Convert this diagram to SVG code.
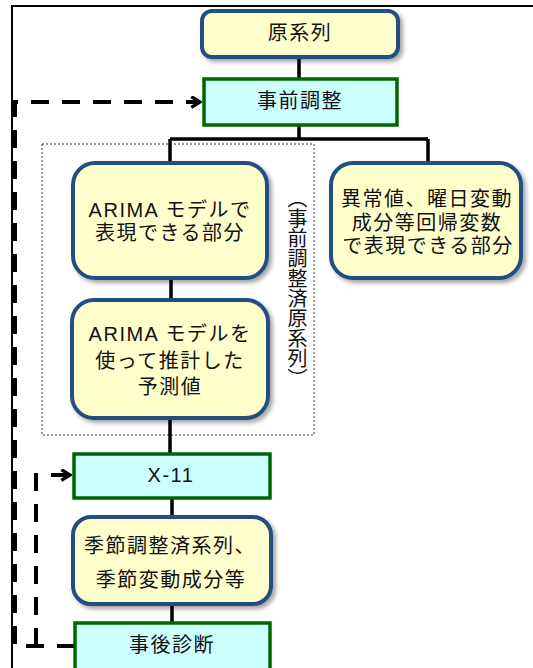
<svg xmlns="http://www.w3.org/2000/svg" width="533" height="668" viewBox="0 0 533 668">
<defs>
<filter id="sh" x="-10%" y="-10%" width="130%" height="130%">
<feDropShadow dx="3" dy="3" stdDeviation="2" flood-color="#000" flood-opacity="0.35"/>
</filter>
<marker id="chev" viewBox="0 0 12 12" refX="10" refY="6" markerWidth="13" markerHeight="13" markerUnits="userSpaceOnUse" orient="auto">
<path d="M2,1 L10,6 L2,11" fill="none" stroke="#000" stroke-width="3"/>
</marker>
<style>
.y{fill:#FFFFCC;stroke:#24507F;stroke-width:4;filter:url(#sh)}
.g{fill:#CCFFFF;stroke:#006600;stroke-width:3.5}
.t{font-family:"Liberation Sans","Noto Sans CJK JP",sans-serif;font-size:20px;fill:#111;text-anchor:middle;letter-spacing:1.5px}
.c{fill:none;stroke:#000;stroke-width:3.5}
.d{fill:none;stroke:#000;stroke-width:4;stroke-dasharray:18 13}
</style>
</defs>
<rect width="533" height="668" fill="#fff"/>
<path d="M12,668 V6 H533" fill="none" stroke="#000" stroke-width="2"/>
<rect x="42" y="144" width="272" height="291" fill="none" stroke="#333" stroke-width="1" stroke-dasharray="2 2"/>
<text x="296" y="188" class="t" style="writing-mode:vertical-rl;text-orientation:upright;text-anchor:start;letter-spacing:0" font-size="19">（事前調整済原系列）</text>
<g id="connectors">
<path class="c" d="M299,57 V79"/>
<path class="c" d="M299,125 V139 M170,139 H428 M170,139 V163 M428,139 V163"/>
<path class="c" d="M171,278 V300"/>
<path class="c" d="M170,418 V454"/>
<path class="c" d="M172,498 V517"/>
<path class="c" d="M172,604 V623"/>
<path class="d" d="M75,646 H15 V102 H200" marker-end="url(#chev)"/>
<path class="d" d="M36,646 V475 H70" marker-end="url(#chev)"/>
</g>
<g id="n1"><rect class="y" x="202" y="11" width="196" height="46" rx="10"/><text class="t" x="300" y="40">原系列</text></g>
<g id="n2"><rect class="g" x="204" y="79" width="193" height="46"/><text class="t" x="300" y="108">事前調整</text></g>
<g id="n3"><rect class="y" x="73" y="163" width="194" height="115" rx="22"/><text class="t" x="170" y="217">ARIMA モデルで</text><text class="t" x="170" y="240">表現できる部分</text></g>
<g id="n4"><rect class="y" x="331" y="163" width="190" height="115" rx="22"/><text class="t" x="427" y="206">異常値、曜日変動</text><text class="t" x="427" y="230">成分等回帰変数</text><text class="t" x="428" y="253">で表現できる部分</text></g>
<g id="n5"><rect class="y" x="72" y="300" width="196" height="118" rx="22"/><text class="t" x="170" y="341">ARIMA モデルを</text><text class="t" x="170" y="368">使って推計した</text><text class="t" x="170" y="394">予測値</text></g>
<g id="n6"><rect class="g" x="74" y="454" width="196" height="44"/><text class="t" x="171" y="482">X-11</text></g>
<g id="n7"><rect class="y" x="73" y="517" width="198" height="87" rx="18"/><text class="t" x="170" y="553">季節調整済系列、</text><text class="t" x="171" y="587">季節変動成分等</text></g>
<g id="n8"><rect class="g" x="75" y="623" width="195" height="60"/><text class="t" x="172" y="652">事後診断</text></g>
</svg>
